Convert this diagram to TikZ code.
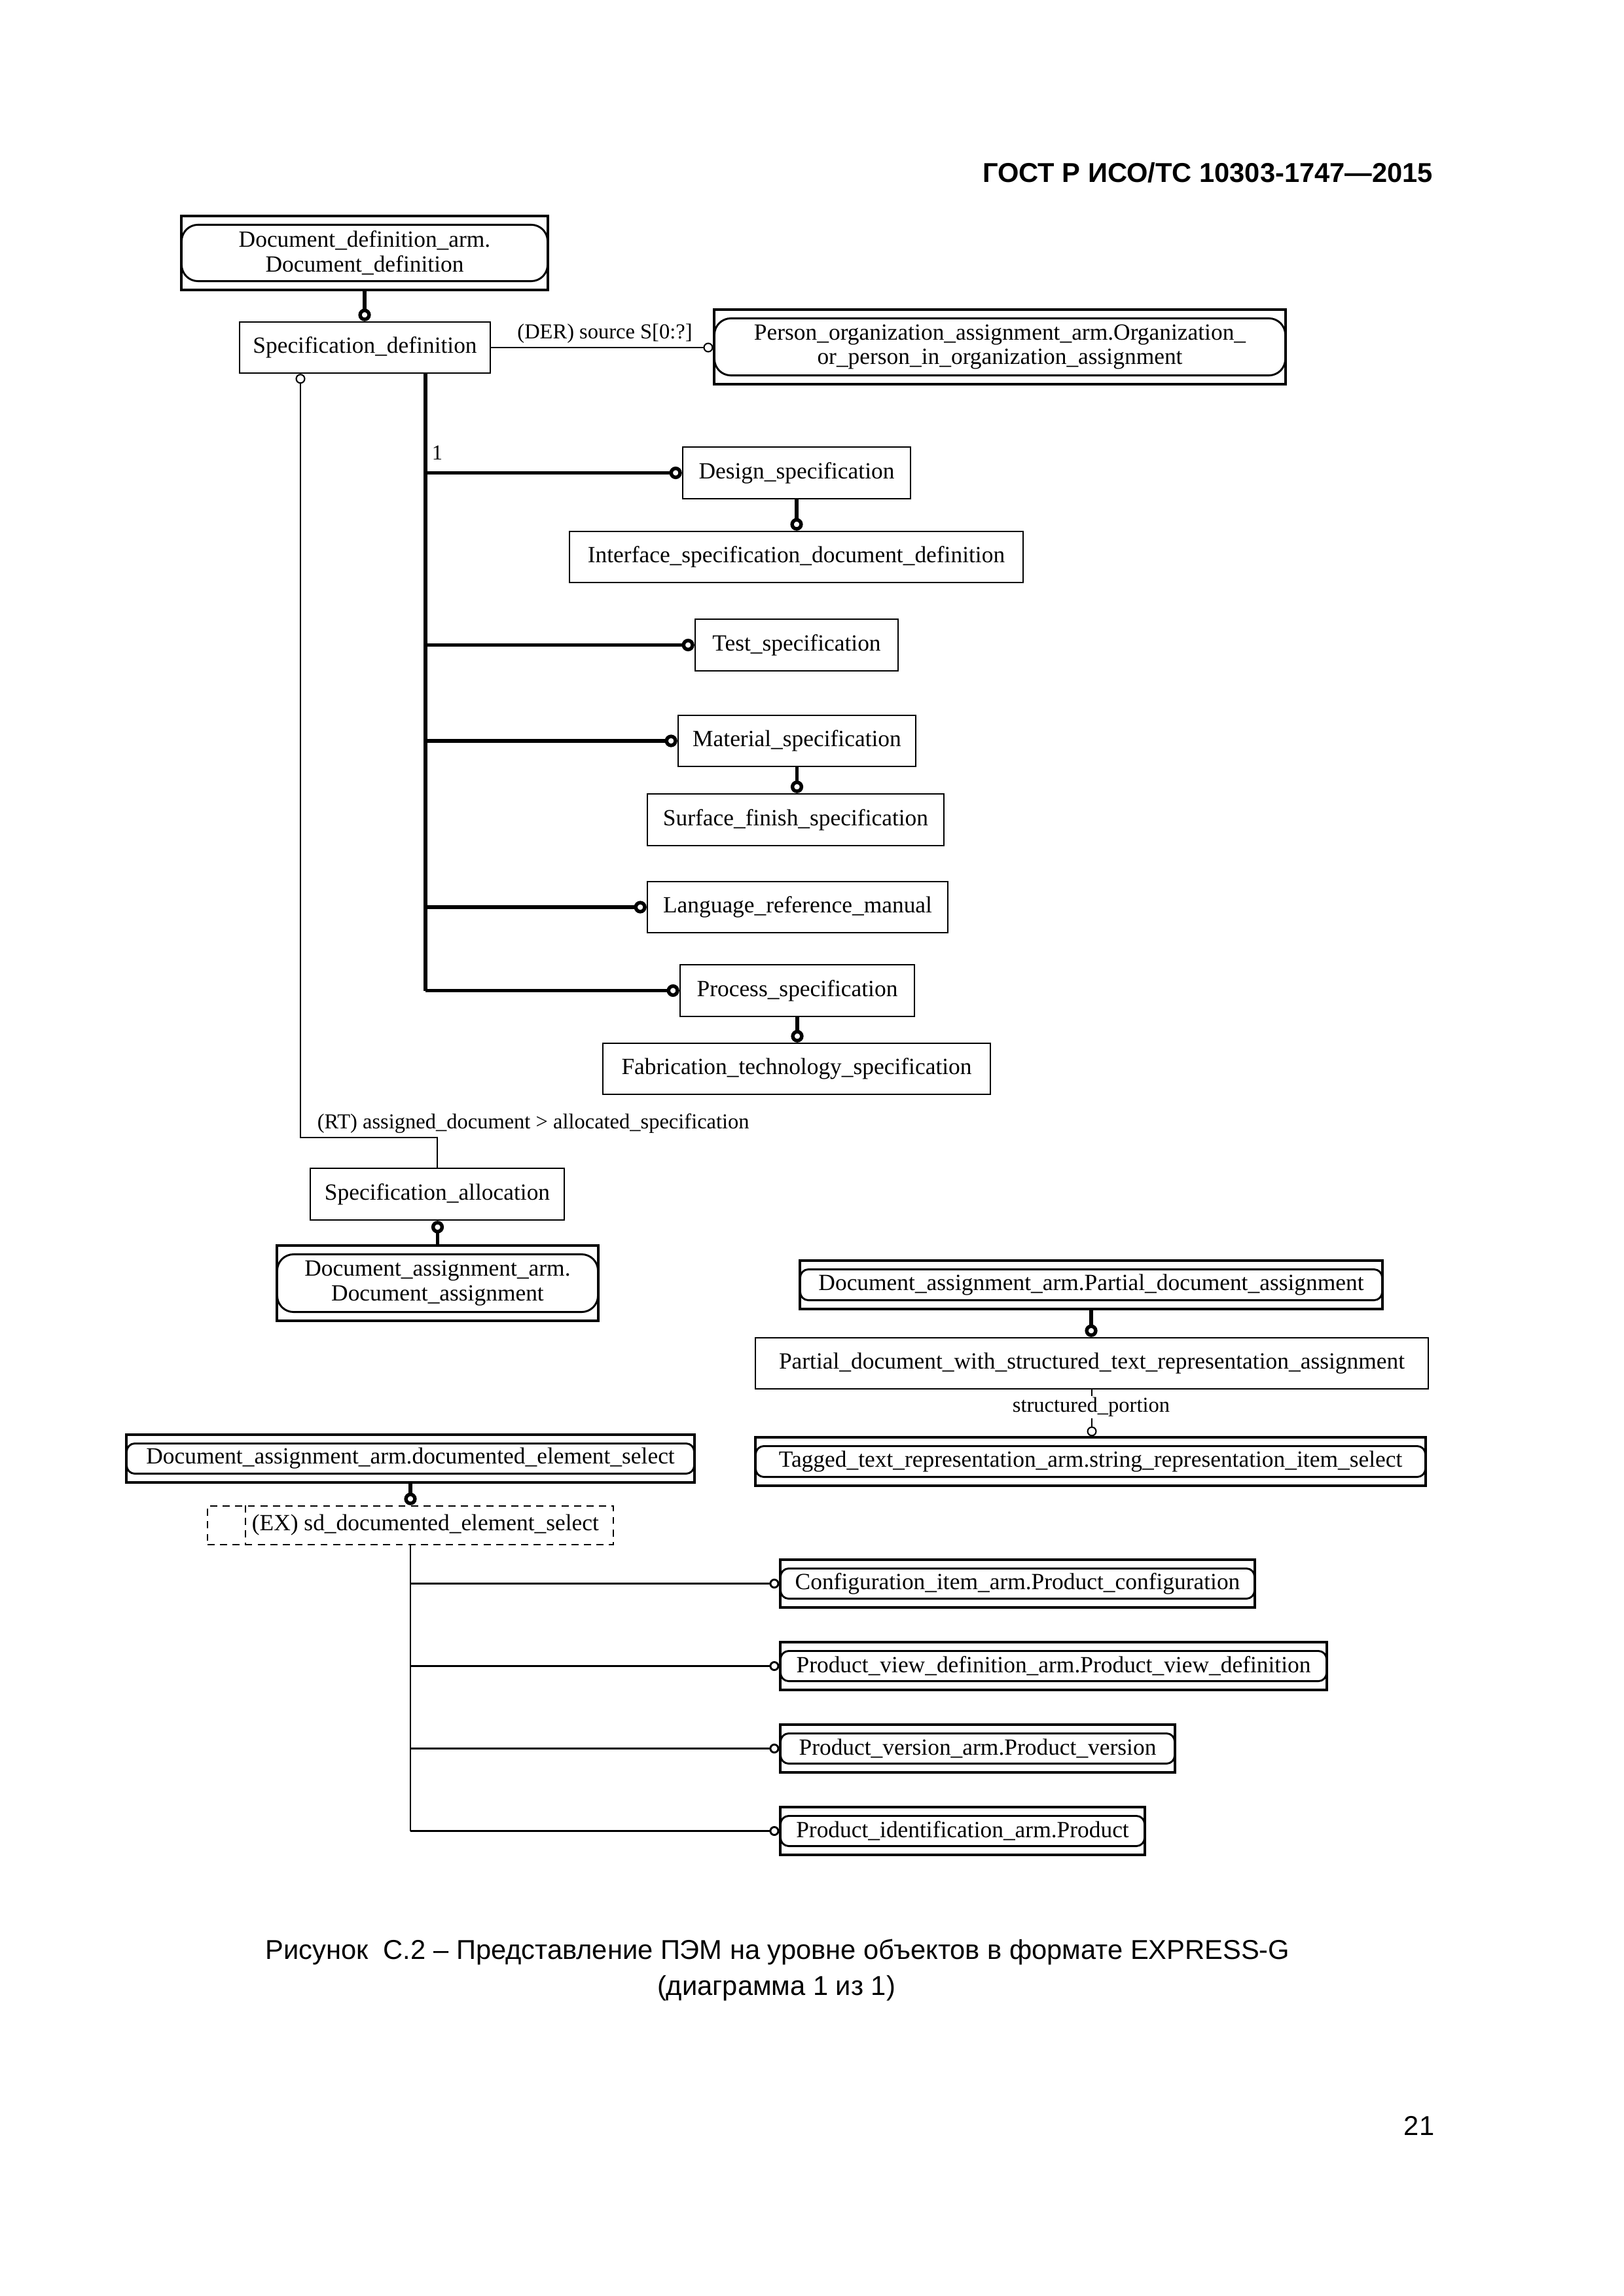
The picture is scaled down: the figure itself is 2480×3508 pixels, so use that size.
\documentclass[tikz,border=0pt]{standalone}
\usepackage{fontspec}
\newfontfamily\tnr{Liberation Serif}
\newfontfamily\ars{Liberation Sans}
\usetikzlibrary{arrows.meta,calc}
\tikzset{
 boxtxt/.style={font=\tnr\fontsize{8.5}{9}\selectfont},
 ent/.style={draw, line width=0.6pt, inner sep=0pt, boxtxt, align=center},
 extent/.style={draw, line width=0.75pt, inner sep=0pt, boxtxt, align=center},
 exbox/.style={draw, line width=0.6pt, dash pattern=on 2.6pt off 2pt, inner sep=0pt},
 exdash/.style={line width=0.6pt, dash pattern=on 2.6pt off 2pt},
 inrnd/.style={line width=0.7pt, rounded corners=#1},
 lbl/.style={font=\tnr\fontsize{7.8}{9}\selectfont, inner sep=0pt},
 sublink/.style={line width=1.3pt, -{Circle[open,length=4.6pt,width=4.6pt]}},
 trunkline/.style={line width=1.3pt},
 attr/.style={line width=0.5pt, -{Circle[open,length=3.6pt,width=3.6pt]}},
 selline/.style={line width=0.6pt},
 selbranch/.style={line width=0.7pt, -{Circle[open,length=3.6pt,width=3.6pt]}},
 pagetxt/.style={font=\ars\fontsize{10}{12}\selectfont, inner sep=0pt},
}
\newcommand\entbox[7]{\node[#1, minimum width={(#5-#3)*0.24pt}, minimum height={(#6-#4)*0.24pt}] (#2) at ({(#3+#5)/2},{(#4+#6)/2}) {#7};}
\newcommand\rndin[2]{\draw[inrnd=#2] ($(#1.north west)+(2,15)$) rectangle ($(#1.south east)+(-2,-15)$);}
\begin{document}
\begin{tikzpicture}[x=0.24pt,y=-0.24pt]
\useasboundingbox (0,0) rectangle (2480,3508);
% header
\node[pagetxt, font=\ars\bfseries\fontsize{10}{12}\selectfont, anchor=base east] (hdr) at (2190,279) {ГОСТ Р ИСО/ТС 10303-1747—2015};
% boxes
\entbox{extent}{dd}{277}{330}{837}{443}{Document\_definition\_arm.\\Document\_definition}
\rndin{dd}{6pt}
\entbox{ent}{sd}{366}{492}{749}{570}{Specification\_definition}
\entbox{extent}{po}{1091}{473}{1964}{587}{Person\_organization\_assignment\_arm.Organization\_\\or\_person\_in\_organization\_assignment}
\rndin{po}{6pt}
\entbox{ent}{ds}{1043}{683}{1391}{762}{Design\_specification}
\entbox{ent}{isd}{870}{812}{1563}{890}{Interface\_specification\_document\_definition}
\entbox{ent}{ts}{1062}{946}{1372}{1025}{Test\_specification}
\entbox{ent}{ms}{1036}{1093}{1399}{1171}{Material\_specification}
\entbox{ent}{sfs}{989}{1213}{1442}{1292}{Surface\_finish\_specification}
\entbox{ent}{lrm}{989}{1347}{1448}{1425}{Language\_reference\_manual}
\entbox{ent}{ps}{1039}{1474}{1397}{1553}{Process\_specification}
\entbox{ent}{fts}{921}{1594}{1513}{1672}{Fabrication\_technology\_specification}
\entbox{ent}{sa}{474}{1785}{862}{1864}{Specification\_allocation}
\entbox{extent}{da}{423}{1903}{914}{2018}{Document\_assignment\_arm.\\Document\_assignment}
\rndin{da}{6pt}
\entbox{extent}{pda}{1222}{1926}{2112}{2000}{Document\_assignment\_arm.Partial\_document\_assignment}
\rndin{pda}{3pt}
\entbox{ent}{pdw}{1154}{2044}{2182}{2122}{Partial\_document\_with\_structured\_text\_representation\_assignment}
\entbox{extent}{ttr}{1154}{2196}{2178}{2270}{Tagged\_text\_representation\_arm.string\_representation\_item\_select}
\rndin{ttr}{3pt}
\entbox{extent}{des}{193}{2192}{1061}{2265}{Document\_assignment\_arm.documented\_element\_select}
\rndin{des}{3pt}
\entbox{exbox}{ex}{317}{2301}{937}{2360}{}
\draw[exdash] ($(ex.north west)+(59,0)$) -- ($(ex.south west)+(59,0)$);
\node[boxtxt, anchor=west, inner sep=0pt] (ext) at (384,2330) {(EX) sd\_documented\_element\_select};
\entbox{extent}{cf}{1192}{2383}{1917}{2456}{Configuration\_item\_arm.Product\_configuration}
\rndin{cf}{3pt}
\entbox{extent}{pv}{1192}{2509}{2027}{2582}{Product\_view\_definition\_arm.Product\_view\_definition}
\rndin{pv}{3pt}
\entbox{extent}{pvr}{1192}{2635}{1795}{2708}{Product\_version\_arm.Product\_version}
\rndin{pvr}{3pt}
\entbox{extent}{pi}{1192}{2761}{1749}{2834}{Product\_identification\_arm.Product}
\rndin{pi}{3pt}
% connectors
\draw[sublink] (dd.south) -- (dd.south |- sd.north);
\draw[attr] (sd.east) -- (sd.east -| po.west);
\node[lbl] (der) at (924,510) {(DER) source S[0:?]};
\coordinate (tk) at (650,0);
\draw[trunkline] (sd.south -| tk) -- (ps.west -| tk);
\node[lbl] (one) at (668,692) {1};
\foreach \n in {ds,ts,ms,lrm,ps} \draw[sublink] (\n.west -| tk) -- (\n.west);
\draw[sublink] (ds.south) -- (ds.south |- isd.north);
\draw[sublink] (ms.south) -- (ms.south |- sfs.north);
\draw[sublink] (ps.south) -- (ps.south |- fts.north);
\coordinate (rtc) at (459,1738);
\draw[attr] (sa.north) |- (rtc) -- (rtc |- sd.south);
\node[lbl, anchor=west] (rt) at (484,1717) {(RT) assigned\_document > allocated\_specification};
\draw[sublink] (da.north) -- (da.north |- sa.south);
\draw[sublink] (pda.south) -- (pda.south |- pdw.north);
\draw[attr] (pdw.south) -- (pdw.south |- ttr.north);
\node[lbl, fill=white, inner sep=0.5pt] (sp) at (1667,2150) {structured\_portion};
\draw[sublink] (des.south) -- (des.south |- ex.north);
\draw[selline] (ex.south) -- (ex.south |- pi.west);
\foreach \n in {cf,pv,pvr,pi} \draw[selbranch] (\n.west -| ex.south) -- (\n.west);
% caption
\node[pagetxt, anchor=base] (cap1) at (1188,2993) {Рисунок~ C.2 – Представление ПЭМ на уровне объектов в формате EXPRESS-G};
\node[pagetxt, anchor=base] (cap2) at (1186,3048) {(диаграмма 1 из 1)};
\node[pagetxt, anchor=base east] (pg) at (2192,3262) {21};
\end{tikzpicture}
\end{document}
